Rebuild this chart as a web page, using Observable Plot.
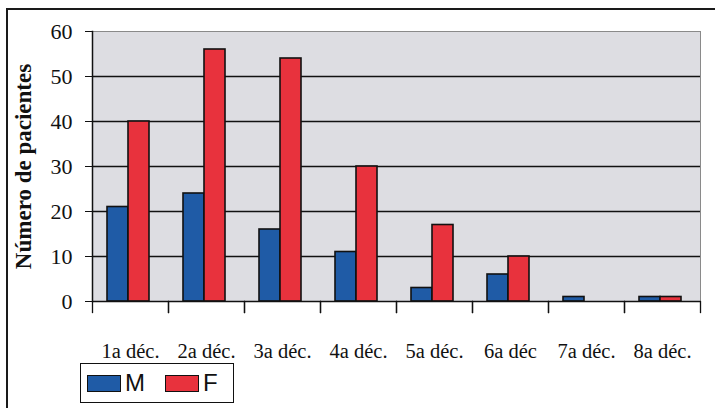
<!DOCTYPE html>
<html>
<head>
<meta charset="utf-8">
<script src="https://cdn.jsdelivr.net/npm/d3@7"></script>
<script src="https://cdn.jsdelivr.net/npm/@observablehq/plot@0.6"></script>
<style>
  html, body { margin: 0; padding: 0; background: #fff; width: 715px; height: 408px; overflow: hidden; }
  #page { position: relative; width: 715px; height: 408px; }
  #border { position: absolute; left: 6px; top: 8px; width: 760px; height: 460px; border-top: 2px solid #1a1a1a; border-left: 2px solid #1a1a1a; pointer-events: none; }
  #chart svg { display: block; font-family: "Liberation Serif", "Times New Roman", serif; color: #111; }
  #chart g[aria-label="y-axis label"] { font-size: 23px; font-weight: bold; }
  #chart g[aria-label="y-axis tick label"] { font-size: 22px; }
  #chart g[aria-label="fx-axis tick label"] { font-size: 20.5px; }
  #legend { margin-left: 80px; width: 154px; height: 40px; border: 1px solid #111; display: flex; align-items: center; font-family: "Liberation Sans", Arial, sans-serif; font-size: 24px; color: #111; box-sizing: border-box; }
  #legend .sw { width: 34px; height: 17px; border: 1.5px solid #111; margin-left: 6px; margin-right: 4px; box-sizing: border-box; }
  #legend .lab { margin-right: 14px; line-height: 1; }
</style>
</head>
<body>
<div id="page">
  <div id="chart"></div>
  <div id="legend"></div>
  <div id="border"></div>
</div>
<script>
const categories = ["1a déc.", "2a déc.", "3a déc.", "4a déc.", "5a déc.", "6a déc", "7a déc.", "8a déc."];
const series = ["M", "F"];
const valuesM = [21, 24, 16, 11, 3, 6, 1, 1];
const valuesF = [40, 56, 54, 30, 17, 10, 0, 1];
const yTicks = [0, 10, 20, 30, 40, 50, 60];
const gridValues = [10, 20, 30, 40, 50];
const colors = {M: "#1f5ba6", F: "#e8323d"};

const data = [];
categories.forEach((c, i) => {
  data.push({cat: c, sex: "M", value: valuesM[i]});
  data.push({cat: c, sex: "F", value: valuesF[i]});
});

const chart = Plot.plot({
  width: 715,
  height: 363,
  marginLeft: 90,
  marginRight: 13,
  marginTop: 31,
  marginBottom: 62,
  style: {background: "transparent", color: "#111"},
  fx: {domain: categories, padding: 0, axis: "bottom", label: null, tickSize: 0, tickPadding: 42},
  x: {domain: series, axis: null, paddingInner: 0, paddingOuter: 0.78, align: 0.45},
  y: {domain: [0, 60], ticks: yTicks, tickSize: 7, tickPadding: 13, label: "Número de pacientes", labelAnchor: "center", labelArrow: "none", labelOffset: 78},
  color: {domain: series, range: [colors.M, colors.F]},
  marks: [
    Plot.frame({fill: "#dddde2", stroke: "none", facet: "super"}),
    Plot.frame({fill: "none", stroke: "#8a8a8a", strokeWidth: 1, facet: "super"}),
    Plot.ruleY(gridValues, {stroke: "#111", strokeWidth: 1.3}),
    Plot.barY(data, {fx: "cat", x: "sex", y: "value", fill: "sex", stroke: "#111", strokeWidth: 1.6}),
    Plot.ruleY([0], {stroke: "#111", strokeWidth: 1.5}),
    Plot.frame({anchor: "left", fx: categories[0], stroke: "#111", strokeWidth: 1.5}),
    Plot.frame({anchor: "left", stroke: "#111", strokeWidth: 1.3, insetTop: 270, insetBottom: -11}),
    Plot.frame({anchor: "right", stroke: "#111", strokeWidth: 1.3, insetTop: 270, insetBottom: -11})
  ]
});
document.getElementById("chart").appendChild(chart);

const legend = document.getElementById("legend");
series.forEach(s => {
  const sw = document.createElement("div");
  sw.className = "sw";
  sw.style.background = colors[s];
  const lab = document.createElement("span");
  lab.className = "lab";
  lab.textContent = s;
  legend.appendChild(sw);
  legend.appendChild(lab);
});
</script>
</body>
</html>
